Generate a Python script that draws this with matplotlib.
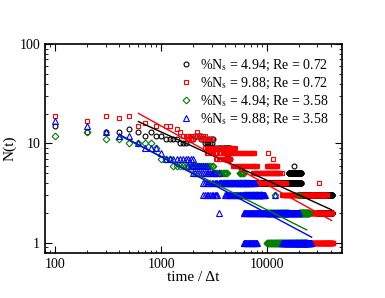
import numpy as np
import matplotlib
matplotlib.use("Agg")
import matplotlib.pyplot as plt
from matplotlib.ticker import LogLocator, NullFormatter, FixedLocator, FixedFormatter

plt.rcParams['font.family'] = ['Liberation Serif', 'DejaVu Serif']
plt.rcParams['mathtext.fontset'] = 'stix'

runs_494_072 = [(100, 100, 15), (200, 300, 13), (400, 400, 13), (500, 500, 14), (600, 600, 13),
                (700, 700, 12), (800, 800, 13), (900, 1000, 12), (1100, 1400, 11), (1500, 1700, 10),
                (1800, 2000, 11), (2100, 2400, 12), (2400, 2600, 11), (2600, 3000, 10), (2800, 3100, 11),
                (3000, 3200, 9), (3300, 3300, 8), (3400, 4500, 9), (4000, 4500, 7), (7000, 21000, 4),
                (16000, 21000, 5), (18000, 18000, 6), (20000, 26000, 3), (28000, 41000, 3),
                (30000, 41000, 2)]
runs_988_072 = [(100, 100, 19), (200, 200, 17), (300, 300, 19), (400, 400, 18), (500, 500, 19),
                (600, 600, 15), (700, 700, 16), (900, 900, 15), (1100, 1200, 15), (1400, 1400, 14),
                (1500, 1500, 13), (1600, 2000, 12), (1800, 2000, 11), (2200, 2200, 13), (2100, 2600, 12),
                (2400, 3000, 11), (2600, 5000, 9), (2700, 7600, 8), (10200, 10200, 8), (3300, 4500, 7),
                (11400, 11400, 7), (4800, 8000, 6), (10000, 12500, 6), (7400, 13300, 5), (14000, 14000, 5),
                (7400, 15000, 4), (31000, 31000, 4), (14000, 37000, 3), (17500, 41000, 2),
                (25500, 42000, 1)]
runs_494_358 = [(100, 100, 12), (200, 200, 13), (300, 400, 11), (500, 500, 10), (600, 800, 10),
                (900, 900, 9), (1000, 1000, 7), (1100, 1200, 7), (1300, 3100, 6), (3100, 4200, 5),
                (5500, 6000, 5), (3600, 6800, 4), (6000, 9000, 3), (12000, 12000, 3), (20000, 20000, 3),
                (10000, 16000, 2), (20000, 25000, 2), (10000, 24000, 1)]
runs_988_358 = [(100, 100, 17), (200, 200, 15), (300, 300, 13), (400, 500, 12), (600, 600, 10),
                (700, 900, 9), (1000, 1000, 8), (1100, 2000, 7), (1800, 2700, 6), (2000, 3200, 5),
                (3500, 3500, 5), (2500, 7700, 4), (2500, 3400, 3), (4000, 9500, 3), (12000, 12000, 3),
                (3500, 3500, 2), (6000, 20000, 2), (6000, 8000, 1), (14000, 26000, 1)]

# power-law fits: end points (t, N)
fit_494_072 = ([610, 40700], [16.6, 2.15])
fit_988_072 = ([610, 40700], [20.1, 1.68])
fit_494_358 = ([425, 23700], [11.7, 1.35])
fit_988_358 = ([410, 26400], [12.2, 1.14])

labels = [r'%N$_{\rm s}$ = 4.94; Re = 0.72', r'%N$_{\rm s}$ = 9.88; Re = 0.72',
          r'%N$_{\rm s}$ = 4.94; Re = 3.58', r'%N$_{\rm s}$ = 9.88; Re = 3.58']
colors = ['black', 'red', 'green', 'blue']
markers = ['o', 's', 'D', '^']
msizes = [3.5, 3.2, 3.4, 4.2]


def expand(runs):
    t, n = [], []
    for a, b, v in runs:
        ts = np.arange(a, b + 1, 100)
        t.extend(ts)
        n.extend([v] * len(ts))
    return np.array(t), np.array(n)


fig = plt.figure(figsize=(3.85, 2.98), dpi=100)
ax = fig.add_axes([0.117, 0.151, 0.771, 0.701])

all_runs = [runs_494_072, runs_988_072, runs_494_358, runs_988_358]
all_fits = [fit_494_072, fit_988_072, fit_494_358, fit_988_358]
for runs, c, m, ms, lab in zip(all_runs, colors, markers, msizes, labels):
    t, n = expand(runs)
    ax.plot(t, n, linestyle='none', marker=m, ms=ms, mfc='none', mec=c, mew=0.8, label=lab)
for fit, c in zip(all_fits, colors):
    ax.plot(fit[0], fit[1], color=c, lw=1.0)

ax.set_xscale('log')
ax.set_yscale('log')
ax.set_xlim(80, 51000)
ax.set_ylim(0.79, 100)

ax.xaxis.set_major_locator(FixedLocator([100, 1000, 10000]))
ax.xaxis.set_major_formatter(FixedFormatter(['100', '1000', '10000']))
ax.yaxis.set_major_locator(FixedLocator([1, 10, 100]))
ax.yaxis.set_major_formatter(FixedFormatter(['1', '10', '100']))
ax.xaxis.set_minor_locator(LogLocator(subs=np.arange(2, 10)))
ax.yaxis.set_minor_locator(LogLocator(subs=np.arange(2, 10)))
ax.xaxis.set_minor_formatter(NullFormatter())
ax.yaxis.set_minor_formatter(NullFormatter())
ax.tick_params(which='both', direction='in', top=True, right=True, labelsize=10)
ax.tick_params(which='major', length=5)
ax.tick_params(which='minor', length=2.5)
for s in ax.spines.values():
    s.set_linewidth(1.2)

ax.set_xlabel('time / \u0394t', fontsize=11, labelpad=0)
ax.set_ylabel('N(t)', fontsize=11, labelpad=2)

ax.legend(loc='upper right', frameon=False, fontsize=10, handlelength=0.8,
          handletextpad=0.6, labelspacing=0.2, borderaxespad=0.6, markerscale=1.0)

fig.savefig('out.png', dpi=100)
